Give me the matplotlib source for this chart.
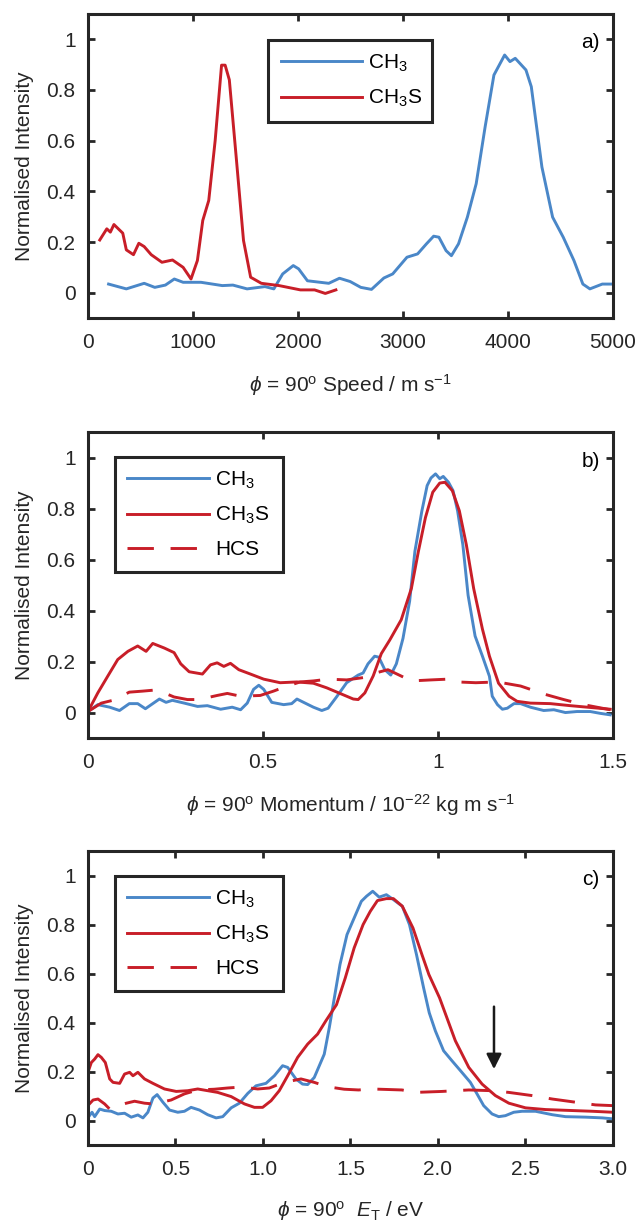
import matplotlib
matplotlib.use("Agg")
import matplotlib.pyplot as plt

# -------------------------------
# Dados
# -------------------------------

# a) velocidade (m/s)
a_ch3_x = [196, 365, 535, 636, 737, 822, 906, 1076, 1279, 1380, 1515, 1685, 1770, 1854, 1955,
           2006, 2090, 2293, 2395, 2497, 2598, 2700, 2818, 2902, 3038, 3139, 3224, 3292, 3342,
           3410, 3461, 3529, 3613, 3697, 3782, 3866, 3968, 4019, 4069, 4171, 4222, 4323, 4425,
           4526, 4628, 4713, 4780, 4898, 5000]
a_ch3_y = [0.034, 0.015, 0.037, 0.021, 0.030, 0.054, 0.041, 0.041, 0.028, 0.030, 0.015, 0.024,
           0.015, 0.074, 0.107, 0.094, 0.047, 0.037, 0.057, 0.044, 0.021, 0.013, 0.058, 0.074,
           0.140, 0.153, 0.193, 0.223, 0.219, 0.166, 0.146, 0.193, 0.298, 0.430, 0.654, 0.859,
           0.938, 0.912, 0.925, 0.879, 0.813, 0.496, 0.298, 0.219, 0.127, 0.034, 0.015, 0.034,
           0.034]
a_ch3s_x = [112, 179, 213, 247, 331, 365, 433, 484, 535, 602, 704, 805, 906, 981, 1042, 1093,
            1150, 1211, 1272, 1306, 1346, 1414, 1481, 1549, 1651, 1820, 2023, 2158, 2260, 2361]
a_ch3s_y = [0.208, 0.252, 0.239, 0.269, 0.235, 0.169, 0.150, 0.195, 0.182, 0.150, 0.120, 0.129,
            0.100, 0.054, 0.127, 0.285, 0.364, 0.600, 0.898, 0.898, 0.840, 0.523, 0.206, 0.061,
            0.037, 0.028, 0.011, 0.011, -0.003, 0.011]

# b) momento (1e-22 kg m/s)
b_ch3_x = [0.0, 0.028, 0.062, 0.090, 0.118, 0.142, 0.164, 0.185, 0.204, 0.223, 0.241, 0.275,
           0.313, 0.341, 0.379, 0.412, 0.436, 0.455, 0.473, 0.488, 0.502, 0.525, 0.559, 0.582,
           0.597, 0.616, 0.644, 0.668, 0.686, 0.710, 0.739, 0.772, 0.786, 0.800, 0.819, 0.831,
           0.848, 0.865, 0.881, 0.900, 0.919, 0.934, 0.954, 0.969, 0.980, 0.993, 1.005, 1.015,
           1.030, 1.043, 1.056, 1.071, 1.086, 1.106, 1.127, 1.147, 1.155, 1.170, 1.184, 1.198,
           1.217, 1.236, 1.264, 1.302, 1.331, 1.364, 1.397, 1.435, 1.463, 1.492]
b_ch3_y = [0.004, 0.031, 0.021, 0.008, 0.035, 0.035, 0.015, 0.035, 0.053, 0.040, 0.048, 0.037,
           0.024, 0.027, 0.013, 0.021, 0.011, 0.037, 0.091, 0.107, 0.091, 0.040, 0.031, 0.035,
           0.053, 0.040, 0.021, 0.008, 0.017, 0.061, 0.117, 0.147, 0.155, 0.191, 0.221, 0.217,
           0.168, 0.147, 0.191, 0.291, 0.437, 0.632, 0.791, 0.890, 0.920, 0.936, 0.917, 0.926,
           0.903, 0.870, 0.791, 0.658, 0.460, 0.300, 0.221, 0.142, 0.064, 0.031, 0.013, 0.017,
           0.035, 0.035, 0.021, 0.008, 0.011, 0.000, 0.004, 0.004, -0.003, -0.009]
b_ch3s_x = [0.0, 0.028, 0.057, 0.085, 0.114, 0.142, 0.166, 0.185, 0.218, 0.246, 0.265, 0.289,
            0.327, 0.350, 0.369, 0.388, 0.407, 0.431, 0.464, 0.502, 0.549, 0.597, 0.644, 0.682,
            0.720, 0.758, 0.772, 0.791, 0.815, 0.838, 0.862, 0.895, 0.924, 0.944, 0.964, 0.985,
            1.005, 1.020, 1.041, 1.061, 1.081, 1.102, 1.127, 1.147, 1.173, 1.203, 1.226, 1.264,
            1.321, 1.378, 1.435, 1.492]
b_ch3s_y = [0.004, 0.077, 0.144, 0.208, 0.240, 0.261, 0.240, 0.271, 0.253, 0.235, 0.191, 0.160,
            0.151, 0.187, 0.195, 0.181, 0.193, 0.168, 0.151, 0.131, 0.117, 0.120, 0.115, 0.097,
            0.075, 0.053, 0.051, 0.077, 0.144, 0.231, 0.284, 0.364, 0.487, 0.632, 0.764, 0.864,
            0.900, 0.903, 0.870, 0.791, 0.658, 0.486, 0.327, 0.221, 0.115, 0.064, 0.044, 0.037,
            0.035, 0.027, 0.020, 0.013]
b_hcs_x = [0.0, 0.038, 0.071, 0.118, 0.156, 0.189, 0.218, 0.246, 0.284, 0.317, 0.369, 0.398,
           0.436, 0.492, 0.530, 0.563, 0.606, 0.644, 0.686, 0.739, 0.786, 0.810, 0.857, 0.924,
           0.980, 1.028, 1.056, 1.108, 1.170, 1.236, 1.307, 1.359, 1.416, 1.492]
b_hcs_y = [0.004, 0.037, 0.048, 0.080, 0.084, 0.088, 0.077, 0.061, 0.051, 0.051, 0.067, 0.075,
           0.064, 0.067, 0.084, 0.101, 0.120, 0.124, 0.131, 0.128, 0.137, 0.151, 0.168, 0.124,
           0.128, 0.131, 0.120, 0.117, 0.120, 0.104, 0.071, 0.051, 0.031, 0.011]

# c) energia translacional (eV)
c_ch3_x = [0.004, 0.023, 0.038, 0.067, 0.095, 0.133, 0.171, 0.209, 0.247, 0.285, 0.314, 0.342,
           0.371, 0.395, 0.428, 0.466, 0.513, 0.551, 0.589, 0.637, 0.684, 0.732, 0.770, 0.818,
           0.865, 0.913, 0.960, 1.017, 1.065, 1.112, 1.141, 1.188, 1.226, 1.255, 1.293, 1.350,
           1.379, 1.440, 1.480, 1.521, 1.562, 1.592, 1.627, 1.664, 1.705, 1.745, 1.796, 1.837,
           1.877, 1.918, 1.950, 1.985, 2.032, 2.080, 2.128, 2.185, 2.223, 2.261, 2.309, 2.347,
           2.385, 2.433, 2.481, 2.557, 2.653, 2.729, 2.844, 2.939, 3.0]
c_ch3_y = [0.016, 0.034, 0.016, 0.047, 0.041, 0.038, 0.027, 0.030, 0.014, 0.023, 0.011, 0.034,
           0.092, 0.106, 0.075, 0.043, 0.034, 0.038, 0.054, 0.043, 0.024, 0.011, 0.016, 0.052,
           0.071, 0.111, 0.142, 0.152, 0.183, 0.224, 0.217, 0.170, 0.149, 0.147, 0.176, 0.271,
           0.380, 0.637, 0.759, 0.827, 0.895, 0.916, 0.936, 0.912, 0.922, 0.902, 0.875, 0.800,
           0.678, 0.541, 0.440, 0.366, 0.285, 0.244, 0.204, 0.156, 0.109, 0.061, 0.027, 0.016,
           0.020, 0.034, 0.038, 0.038, 0.024, 0.016, 0.014, 0.011, 0.007]
c_ch3s_x = [0.004, 0.019, 0.038, 0.057, 0.076, 0.099, 0.124, 0.143, 0.181, 0.209, 0.238, 0.257,
            0.285, 0.323, 0.371, 0.437, 0.504, 0.570, 0.627, 0.684, 0.741, 0.818, 0.894, 0.951,
            0.998, 1.046, 1.093, 1.141, 1.198, 1.255, 1.312, 1.359, 1.420, 1.470, 1.521, 1.572,
            1.613, 1.654, 1.705, 1.745, 1.796, 1.857, 1.908, 1.948, 2.009, 2.099, 2.176, 2.252,
            2.328, 2.405, 2.500, 2.615, 2.767, 2.882, 3.0]
c_ch3s_y = [0.206, 0.237, 0.251, 0.269, 0.258, 0.237, 0.170, 0.156, 0.152, 0.190, 0.197, 0.183,
            0.197, 0.170, 0.152, 0.129, 0.119, 0.122, 0.129, 0.122, 0.115, 0.098, 0.068, 0.054,
            0.054, 0.081, 0.122, 0.183, 0.258, 0.312, 0.353, 0.407, 0.473, 0.582, 0.705, 0.800,
            0.854, 0.898, 0.906, 0.906, 0.875, 0.786, 0.678, 0.596, 0.501, 0.326, 0.217, 0.149,
            0.102, 0.071, 0.052, 0.045, 0.041, 0.038, 0.034]
c_hcs_x = [0.004, 0.029, 0.057, 0.095, 0.124, 0.170, 0.219, 0.266, 0.323, 0.371, 0.420, 0.475,
           0.551, 0.627, 0.722, 0.798, 0.875, 0.970, 1.036, 1.122, 1.217, 1.293, 1.369, 1.464,
           1.546, 1.622, 1.794, 1.870, 2.023, 2.176, 2.309, 2.405, 2.538, 2.653, 2.786, 2.900,
           3.0]
c_hcs_y = [0.065, 0.084, 0.088, 0.068, 0.047, 0.060, 0.071, 0.079, 0.071, 0.068, 0.075, 0.084,
           0.109, 0.125, 0.128, 0.133, 0.137, 0.129, 0.133, 0.156, 0.170, 0.156, 0.138, 0.128,
           0.125, 0.129, 0.125, 0.115, 0.119, 0.125, 0.122, 0.115, 0.102, 0.088, 0.075, 0.064,
           0.061]

# seta no painel c)
seta_x = 2.32
seta_topo = 0.465
seta_ponta = 0.21

# -------------------------------
# Estilo
# -------------------------------

plt.rcParams['font.family'] = ['Liberation Sans', 'DejaVu Sans']
plt.rcParams['mathtext.fontset'] = 'custom'
plt.rcParams['mathtext.rm'] = 'Liberation Sans'
plt.rcParams['mathtext.it'] = 'Liberation Sans:italic'
plt.rcParams['lines.scale_dashes'] = False

azul = '#4A87C8'
vermelho = '#C81E28'
cinza = '#262626'
fs = 15
lw = 2.1

fig = plt.figure(figsize=(6.4, 12.26), dpi=100)

posicoes = [
    [0.1375, 0.7406, 0.8203, 0.2480],
    [0.1375, 0.3980, 0.8203, 0.2496],
    [0.1375, 0.0660, 0.8203, 0.2398],
]

def estilo_eixo(ax, xlim, xticks, xticklabels, xlabel, letra):
    ax.set_xlim(*xlim)
    ax.set_ylim(-0.1, 1.1)
    ax.set_xticks(xticks)
    ax.set_xticklabels(xticklabels)
    ax.set_yticks([0, 0.2, 0.4, 0.6, 0.8, 1.0])
    ax.set_yticklabels(['0', '0.2', '0.4', '0.6', '0.8', '1'])
    ax.tick_params(direction='in', length=5, width=2, color=cinza, labelcolor=cinza,
                   labelsize=fs, pad=9, top=True, right=True)
    ax.tick_params(axis='x', pad=11)
    for sp in ax.spines.values():
        sp.set_linewidth(2.2)
        sp.set_color(cinza)
    ax.set_ylabel('Normalised Intensity', fontsize=fs, color=cinza, labelpad=9)
    ax.set_xlabel(xlabel, fontsize=fs, color=cinza, labelpad=14)
    ax.text(0.975, 0.905, letra, transform=ax.transAxes, ha='right', va='center',
            fontsize=fs, color='black')

def legenda(ax, x0, y0, w, h):
    leg = ax.legend(loc='upper left', bbox_to_anchor=(x0, y0 - h, w, h), mode='expand',
                    fontsize=fs, frameon=True, fancybox=False, framealpha=1,
                    edgecolor=cinza, handlelength=3.9, handletextpad=0.3,
                    labelspacing=0.67, borderpad=0.6, borderaxespad=0)
    leg.get_frame().set_linewidth(2.2)
    return leg

# -------------------------------
# Painel a)
# -------------------------------
ax = fig.add_axes(posicoes[0])
ax.plot(a_ch3_x, a_ch3_y, color=azul, lw=lw, label='CH$_3$')
ax.plot(a_ch3s_x, a_ch3s_y, color=vermelho, lw=lw, label='CH$_3$S')
estilo_eixo(ax, (0, 5000), [0, 1000, 2000, 3000, 4000, 5000],
            ['0', '1000', '2000', '3000', '4000', '5000'],
            r'$\phi$ = 90$^{\rm o}$ Speed / m s$^{-1}$', 'a)')
legenda(ax, 0.343, 0.914, 0.312, 0.273)

# -------------------------------
# Painel b)
# -------------------------------
ax = fig.add_axes(posicoes[1])
ax.plot(b_ch3_x, b_ch3_y, color=azul, lw=lw, label='CH$_3$')
ax.plot(b_ch3s_x, b_ch3s_y, color=vermelho, lw=lw, label='CH$_3$S')
ax.plot(b_hcs_x, b_hcs_y, color=vermelho, lw=lw, dashes=(19, 12), label='HCS')
estilo_eixo(ax, (0, 1.5), [0, 0.5, 1.0, 1.5], ['0', '0.5', '1', '1.5'],
            r'$\phi$ = 90$^{\rm o}$ Momentum / 10$^{-22}$ kg m s$^{-1}$', 'b)')
legenda(ax, 0.051, 0.918, 0.320, 0.376)

# -------------------------------
# Painel c)
# -------------------------------
ax = fig.add_axes(posicoes[2])
ax.plot(c_ch3_x, c_ch3_y, color=azul, lw=lw, label='CH$_3$')
ax.plot(c_ch3s_x, c_ch3s_y, color=vermelho, lw=lw, label='CH$_3$S')
ax.plot(c_hcs_x, c_hcs_y, color=vermelho, lw=lw, dashes=(19, 12), label='HCS')
estilo_eixo(ax, (0, 3.0), [0, 0.5, 1.0, 1.5, 2.0, 2.5, 3.0],
            ['0', '0.5', '1.0', '1.5', '2.0', '2.5', '3.0'],
            r'$\phi$ = 90$^{\rm o}$  $E_{\rm T}$ / eV', 'c)')
legenda(ax, 0.051, 0.915, 0.320, 0.388)
ax.annotate('', xy=(seta_x, seta_ponta), xytext=(seta_x, seta_topo),
            arrowprops=dict(arrowstyle='-|>,head_length=0.9,head_width=0.45',
                            color='#1a1a1a', lw=1.8, shrinkA=0, shrinkB=0))

fig.savefig('out.png', dpi=100)
